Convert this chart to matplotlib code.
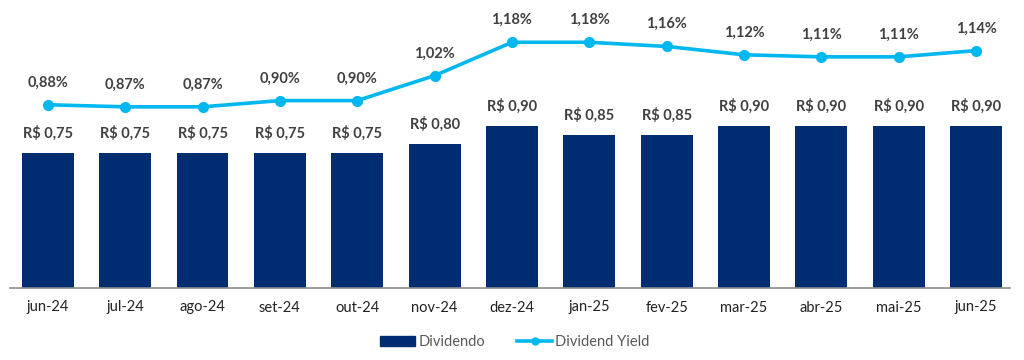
import matplotlib.pyplot as plt
from matplotlib.lines import Line2D
from matplotlib.patches import Patch

months = ['jun-24', 'jul-24', 'ago-24', 'set-24', 'out-24', 'nov-24', 'dez-24',
          'jan-25', 'fev-25', 'mar-25', 'abr-25', 'mai-25', 'jun-25']
dividendo = [0.75, 0.75, 0.75, 0.75, 0.75, 0.80, 0.90, 0.85, 0.85, 0.90, 0.90, 0.90, 0.90]
dividend_yield = [0.88, 0.87, 0.87, 0.90, 0.90, 1.02, 1.18, 1.18, 1.16, 1.12, 1.11, 1.11, 1.14]

bar_color = '#002D72'
line_color = '#00B7EF'
text_color = '#404040'


def fmt(v):
    return ('%.2f' % v).replace('.', ',')


plt.rcParams['font.family'] = ['Lato', 'DejaVu Sans']

fig = plt.figure(figsize=(10.24, 3.6), dpi=100)
ax = fig.add_axes([10 / 1024, 72 / 360, 1000 / 1024, 278 / 360])
x = list(range(len(months)))

ax.bar(x, dividendo, width=0.67, color=bar_color)
for xi, v in zip(x, dividendo):
    ax.annotate('R$ ' + fmt(v), (xi, v), xytext=(0, 9), textcoords='offset points',
                ha='center', va='bottom', fontsize=10.5, fontweight='bold', color=text_color)
ax.set_ylim(0, 1.544)
ax.set_xlim(-0.49, 12.44)
ax.set_yticks([])
ax.set_xticks(x)
ax.set_xticklabels(months, fontsize=10.5, color='#222222')
ax.tick_params(axis='x', length=0, pad=9)
for s in ['top', 'left', 'right']:
    ax.spines[s].set_visible(False)
ax.spines['bottom'].set_color('#8c8c8c')
ax.spines['bottom'].set_linewidth(1.2)

ax2 = ax.twinx()
ax2.plot(x, dividend_yield, color=line_color, lw=2.6, marker='o', markersize=7)
for xi, v in zip(x, dividend_yield):
    ax2.annotate(fmt(v) + '%', (xi, v), xytext=(0, 11),
                 textcoords='offset points', ha='center', va='bottom',
                 fontsize=10.5, fontweight='bold', color=text_color)
ax2.set_ylim(0, 1.335)
ax2.set_yticks([])
for s in ['top', 'left', 'right', 'bottom']:
    ax2.spines[s].set_visible(False)

handles = [Patch(color=bar_color),
           Line2D([0], [0], color=line_color, lw=2.6, marker='o', markersize=5)]
fig.legend(handles, ['Dividendo', 'Dividend Yield'], loc='center',
           bbox_to_anchor=(515 / 1024, 1 - 342 / 360), ncol=2, frameon=False,
           fontsize=10.5, labelcolor='#595959', handlelength=2.4, handleheight=0.7,
           columnspacing=2.2, handletextpad=0.2)

fig.savefig('out.png', dpi=100)
